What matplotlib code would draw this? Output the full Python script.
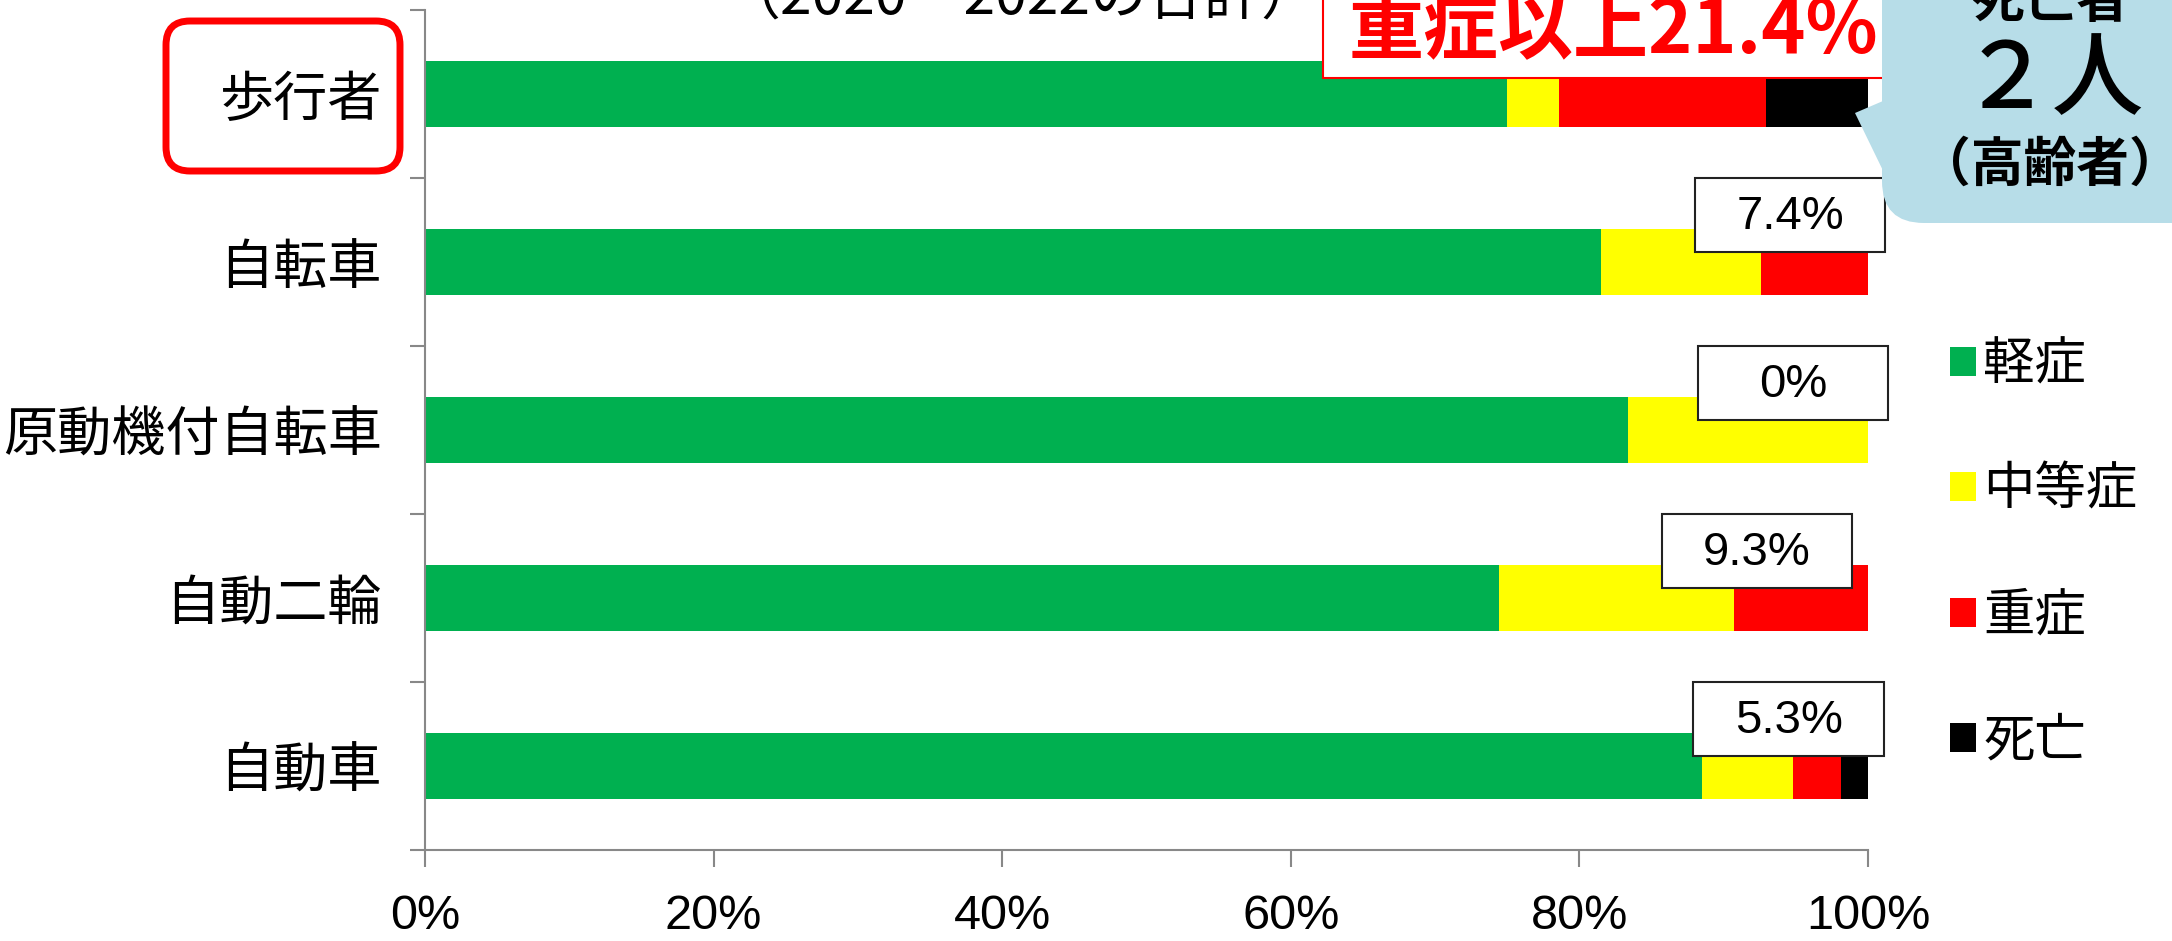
import matplotlib
matplotlib.use('Agg')
import matplotlib.pyplot as plt
import numpy as np
from matplotlib.patches import Patch, Rectangle, FancyBboxPatch, Polygon
from matplotlib.transforms import Affine2D

# data (percent shares by road user type)
categories = ['歩行者', '自転車', '原動機付自転車', '自動二輪', '自動車']
severity = ['軽症', '中等症', '重症', '死亡']
light = [75.0, 81.5, 83.4, 74.4, 88.5]
moderate = [3.6, 11.1, 16.6, 16.3, 6.3]
serious = [14.3, 7.4, 0.0, 9.3, 3.3]
death = [7.1, 0.0, 0.0, 0.0, 2.0]
colors = ['#00B050', '#FFFF00', '#FF0000', '#000000']

# boxed labels: severe-or-worse share per row (row index, text)
box_rows = [1, 2, 3, 4]
box_texts = ['7.4%', '0%', '9.3%', '5.3%']
box_left = [88.0, 88.2, 85.7, 87.9]

xticks = [0, 20, 40, 60, 80, 100]

W, H = 2172, 941
fig = plt.figure(figsize=(W / 100, H / 100), dpi=100)
ax = fig.add_axes([425 / W, 1 - 850 / H, (1868 - 425) / W, 840 / H])

# pixel transform, origin top-left
pix = Affine2D().scale(1, -1).translate(0, H)

jp = ['Noto Sans CJK JP', 'DejaVu Sans']
num = ['Liberation Sans', 'Noto Sans CJK JP']

y = np.arange(len(categories))
left = np.zeros(len(categories))
for vals, col, name in zip([light, moderate, serious, death], colors, severity):
    ax.barh(y, vals, left=left, height=0.39, color=col, label=name, zorder=2)
    left += np.array(vals)

ax.set_xlim(0, 100)
ax.set_ylim(len(categories) - 0.5, -0.5)

ax.set_yticks(y)
ax.set_yticklabels(categories, fontfamily=jp, fontsize=39)
ax.tick_params(axis='y', which='major', length=0, pad=31)
ax.set_yticks(np.arange(-0.5, len(categories)), minor=True)
ax.tick_params(axis='y', which='minor', length=11, width=1.5, color='#888888')

ax.set_xticks(xticks)
ax.set_xticklabels([f'{t}%' for t in xticks], fontfamily=num, fontsize=35)
ax.tick_params(axis='x', length=12, width=1.5, color='#888888', pad=20)

for s in ['top', 'right']:
    ax.spines[s].set_visible(False)
for s in ['left', 'bottom']:
    ax.spines[s].set_color('#888888')
    ax.spines[s].set_linewidth(1.5)

# boxed percentages
for r, t, bl in zip(box_rows, box_texts, box_left):
    ax.add_patch(Rectangle((bl, r - 0.5), 13.2, 0.44, facecolor='white',
                           edgecolor='#222222', lw=1.5, zorder=5, clip_on=False))
    ax.text(bl + 6.6, r - 0.27, t, ha='center', va='center', fontsize=34,
            fontfamily=num, zorder=6, clip_on=False)

# legend
handles = [Patch(facecolor=c, edgecolor='none') for c in colors]
ax.legend(handles, severity, loc='upper left', bbox_to_anchor=(1950 / W, 1 - 338 / H),
          bbox_transform=fig.transFigure, frameon=False, prop={'family': jp, 'size': 37},
          handlelength=0.5, handleheight=0.5, handletextpad=0.15, labelspacing=1.4,
          borderpad=0, borderaxespad=0)

# title (mostly cut off at the top edge)
fig.text(1021 / W, 1 - 15 / H, '（2020～2022の合計）', ha='center', va='baseline',
         fontsize=41, fontfamily=jp)

# red rounded frame around 歩行者
fig.patches.append(FancyBboxPatch((166, 21), 234, 150, boxstyle='round,pad=0,rounding_size=24',
                                  transform=pix, facecolor='none', edgecolor='#FF0000',
                                  lw=5, zorder=3))

# "重症以上21.4%" box
fig.patches.append(Rectangle((1323, -40), 600, 118, transform=pix, facecolor='white',
                             edgecolor='#FF0000', lw=1.5, zorder=3))
fig.text(1349 / W, 1 - 53 / H, '重症以上21.4%', ha='left', va='baseline', fontsize=54,
         fontweight='bold', color='#FF0000', fontfamily=jp, zorder=4)

# blue callout
blue = '#B7DDE8'
fig.patches.append(FancyBboxPatch((1882, -60), 400, 283, boxstyle='round,pad=0,rounding_size=42',
                                  transform=pix, facecolor=blue, edgecolor='none', zorder=5))
fig.patches.append(Polygon([(1890, 98), (1855, 113), (1890, 185)], closed=True,
                           transform=pix, facecolor=blue, edgecolor='none', zorder=5))
fig.text(2050 / W, 1 - 2 / H, '死亡者', ha='center', va='center', fontsize=38,
         fontweight='bold', fontfamily=jp, zorder=6)
fig.text(2052 / W, 1 - 82 / H, '２人', ha='center', va='center', fontsize=66,
         fontweight='medium', fontfamily=jp, zorder=6)
fig.text(2050 / W, 1 - 165 / H, '（高齢者）', ha='center', va='center', fontsize=38,
         fontweight='bold', fontfamily=jp, zorder=6)

fig.savefig('out.png', dpi=100)
